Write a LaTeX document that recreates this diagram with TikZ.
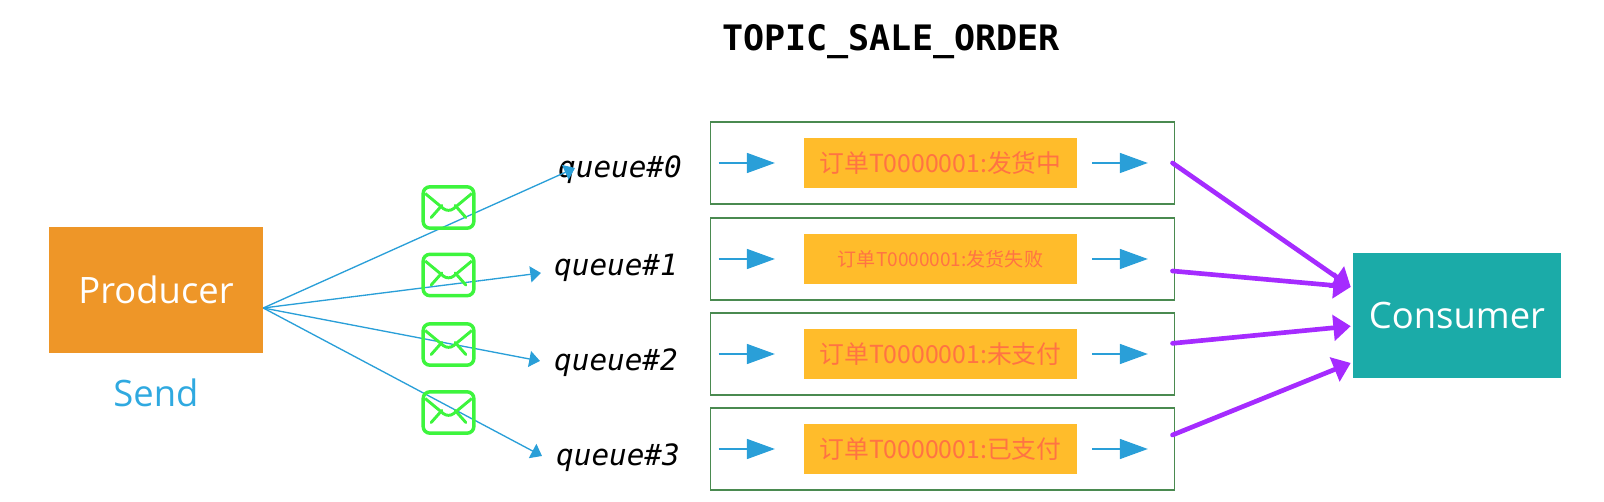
\documentclass[tikz,border=0pt]{standalone}
\usepackage{fontspec}
\usepackage{tikz}
\usetikzlibrary{positioning, arrows.meta}
\setmainfont{Open Sans}
\newfontfamily\cjk{Noto Sans CJK SC}
\newfontfamily\codefont{DejaVu Sans Mono}
\definecolor{producerorange}{HTML}{EE9628}
\definecolor{consumerteal}{HTML}{1BABA8}
\definecolor{flowblue}{HTML}{2A9FD8}
\definecolor{sendblue}{HTML}{2FA9E0}
\definecolor{boxgreen}{HTML}{4A8A50}
\definecolor{mailgreen}{HTML}{3DF53D}
\definecolor{orderfill}{HTML}{FFBC2B}
\definecolor{ordertext}{HTML}{FF7343}
\definecolor{drainpurple}{HTML}{A52BFF}
\tikzset{
    role/.style={text=white, minimum width=#1, minimum height=94pt, inner sep=0pt, font=\fontsize{27.3}{31}\selectfont},
    queuebox/.style={draw=boxgreen, line width=1.2pt, minimum width=348pt, minimum height=61.5pt, outer sep=0pt},
    order/.style={fill=orderfill, text=ordertext, minimum width=205pt, minimum height=37pt, inner sep=0pt, xshift=-1.5pt},
    tag/.style={inner sep=0pt, font=\codefont\itshape\fontsize{22}{26}\selectfont},
    mailbox/.style={draw=mailgreen, line width=2.6pt, rounded corners=5pt, minimum width=38pt, minimum height=31pt, inner sep=0pt,
        path picture={
            \draw[mailgreen, line width=2.2pt, line join=round] ([shift={(1.5pt,-5pt)}]path picture bounding box.north west) -- ([yshift=-19.5pt]path picture bounding box.north) -- ([shift={(-1.5pt,-5pt)}]path picture bounding box.north east);
            \draw[mailgreen, line width=2.2pt, line cap=round] ([shift={(6pt,8pt)}]path picture bounding box.south west) -- ([shift={(14pt,17pt)}]path picture bounding box.south west);
            \draw[mailgreen, line width=2.2pt, line cap=round] ([shift={(-6pt,8pt)}]path picture bounding box.south east) -- ([shift={(-14pt,17pt)}]path picture bounding box.south east);
        }},
    flow/.style={flowblue, line width=1.1pt, -{Triangle[length=21pt, width=15pt]}},
    fan/.style={flowblue, line width=1pt, -{Triangle[length=8pt, width=12pt]}},
    drain/.style={drainpurple, line width=3.5pt, line cap=round, -{Triangle[length=13pt, width=19pt]}}
}

\begin{document}
\begin{tikzpicture}[x=0.75pt, y=-0.75pt]
    \useasboundingbox (0,0) rectangle (1604,502);

    % Title
    \node[font=\codefont\bfseries\fontsize{26.3}{30}\selectfont] (title) at (891,42) {TOPIC\_SALE\_ORDER};

    % Producer and consumer
    \node[role=160.5pt, fill=producerorange] (producer) at (156,290) {Producer};
    \node[below=19.5pt of producer, text=sendblue, font=\fontsize{27.3}{31}\selectfont, inner sep=0pt] (send) {Send};
    \node[role=156pt, fill=consumerteal] (consumer) at (1457,315.5) {Consumer};

    % Queue rows
    \node[queuebox] (box0) at (942.5,163) {};
    \node[queuebox, below=10.5pt of box0] (box1) {};
    \node[queuebox, below=9.75pt of box1] (box2) {};
    \node[queuebox, below=9.75pt of box2] (box3) {};

    \node[order, font=\cjk\fontsize{18.6}{22}\selectfont] (order0) at (box0) {订单T0000001:发货中};
    \node[order, font=\cjk\fontsize{14.3}{18}\selectfont] (order1) at (box1) {订单T0000001:发货失败};
    \node[order, font=\cjk\fontsize{18.6}{22}\selectfont] (order2) at (box2) {订单T0000001:未支付};
    \node[order, font=\cjk\fontsize{18.6}{22}\selectfont] (order3) at (box3) {订单T0000001:已支付};

    \node[tag] (tag0) at (620,170) {queue\#0};
    \node[tag] (tag1) at (616,268) {queue\#1};
    \node[tag] (tag2) at (616,363) {queue\#2};
    \node[tag] (tag3) at (618,458) {queue\#3};

    % Free ends of the fan
    \coordinate (send0) at (575,168);
    \coordinate (send1) at (541,273);
    \coordinate (send2) at (540,361);
    \coordinate (send3) at (542,456);

    % Fan out of the producer
    \draw[fan] ([yshift=-13.5pt]producer.east) -- (send0);
    \draw[fan] ([yshift=-13.5pt]producer.east) -- (send1);
    \draw[fan] ([yshift=-13.5pt]producer.east) -- (send2);
    \draw[fan] ([yshift=-13.5pt]producer.east) -- (send3);

    % Messages
    \node[mailbox] (mail0) at (448.5,207.5) {};
    \node[mailbox] (mail1) at (448.5,275) {};
    \node[mailbox] (mail2) at (448.5,344.5) {};
    \node[mailbox] (mail3) at (448.5,412.5) {};

    % Arrows inside the rows
    \draw[flow] ([xshift=6pt]box0.west) -- ([xshift=-21.5pt]order0.west);
    \draw[flow] ([xshift=6pt]box1.west) -- ([xshift=-21.5pt]order1.west);
    \draw[flow] ([xshift=6pt]box2.west) -- ([xshift=-21.5pt]order2.west);
    \draw[flow] ([xshift=6pt]box3.west) -- ([xshift=-21.5pt]order3.west);
    \draw[flow] ([xshift=11pt]order0.east) -- ([xshift=-20pt]box0.east);
    \draw[flow] ([xshift=11pt]order1.east) -- ([xshift=-20pt]box1.east);
    \draw[flow] ([xshift=11pt]order2.east) -- ([xshift=-20pt]box2.east);
    \draw[flow] ([xshift=11pt]order3.east) -- ([xshift=-20pt]box3.east);

    % Into the consumer
    \draw[drain] ([xshift=-1.5pt]box0.east) -- ([shift={(-1.5pt,21.4pt)}]consumer.west);
    \draw[drain] ([shift={(-1.5pt,-9pt)}]box1.east) -- ([shift={(-1.5pt,21.4pt)}]consumer.west);
    \draw[drain] ([shift={(-1.5pt,8pt)}]box2.east) -- ([shift={(-1.5pt,-8pt)}]consumer.west);
    \draw[drain] ([shift={(-1.5pt,10.5pt)}]box3.east) -- ([shift={(-1.5pt,-35.6pt)}]consumer.west);
\end{tikzpicture}
\end{document}
